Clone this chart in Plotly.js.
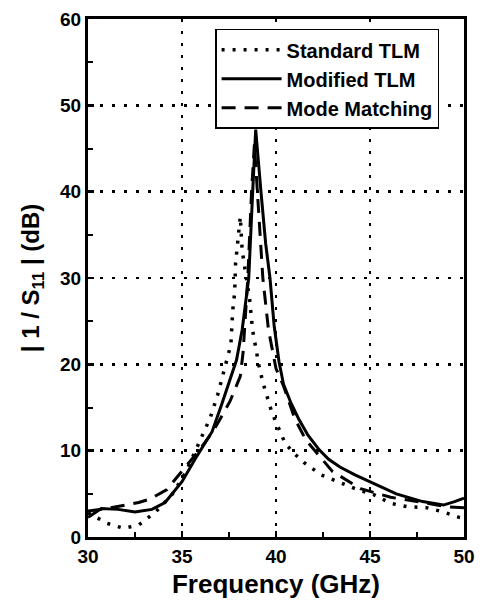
<!DOCTYPE html>
<html>
<head>
<meta charset="utf-8">
<script src="https://cdn.plot.ly/plotly-3.0.1.min.js"></script>
<style>html,body{margin:0;padding:0;background:#fff;}#chart{width:482px;height:606px;}</style>
</head>
<body>
<div id="chart"></div>
<script>
// Standard TLM (dotted)
const stdFreq = [30, 30.5, 31.0, 31.9, 32.7, 33.6, 34.5, 35.2, 36.0, 36.5, 36.9, 37.15, 37.4, 37.6, 37.7, 37.8, 37.85, 37.95, 38.05, 38.1, 38.2, 38.4, 38.6, 38.75, 38.9, 39.1, 39.3, 39.55, 39.8, 40.1, 40.5, 41.0, 41.5, 42.4, 43.3, 44.2, 45.2, 46.1, 47.0, 48.0, 48.9, 49.7, 50];
const stdDb   = [2.8, 2.2, 1.6, 1.0, 1.4, 2.9, 5.0, 7.5, 11.5, 13.8, 16.5, 18.6, 20.5, 22.3, 26.3, 28.3, 31.7, 34.0, 35.9, 37.1, 33.2, 30.5, 27.5, 24.0, 22.0, 19.8, 17.9, 16.0, 14.3, 12.8, 10.8, 9.6, 8.6, 7.2, 6.4, 5.6, 4.9, 3.9, 3.5, 3.4, 2.9, 2.3, 2.2];
// Modified TLM (solid)
const modFreq = [30, 30.1, 30.7, 31.6, 32.5, 33.4, 34.1, 35.0, 35.8, 36.6, 37.1, 37.5, 37.9, 38.2, 38.55, 38.76, 38.92, 39.2, 39.45, 39.68, 39.9, 40.16, 40.4, 40.8, 41.2, 41.7, 42.3, 42.8, 43.4, 44.2, 45.0, 46.4, 47.8, 48.9, 49.5, 50];
const modDb   = [2.3, 2.4, 3.3, 3.2, 2.9, 3.2, 4.0, 6.4, 9.4, 12.2, 15.3, 17.8, 20.5, 24.0, 30.0, 40.0, 47.2, 40.0, 34.0, 30.0, 24.5, 20.3, 17.7, 15.5, 13.7, 11.8, 10.1, 9.0, 8.1, 7.2, 6.4, 5.0, 4.1, 3.7, 4.1, 4.5];
// Mode Matching (dashed)
const mmFreq = [30, 31, 32, 32.7, 33.3, 34.2, 35.1, 35.9, 36.7, 37.55, 38.1, 38.25, 38.5, 38.7, 38.85, 39.0, 39.3, 39.6, 40.0, 40.4, 41.0, 41.6, 42.0, 43.0, 44.5, 46.1, 47.5, 49.1, 50];
const mmDb   = [3.0, 3.3, 3.7, 4.0, 4.4, 5.5, 7.9, 10.0, 12.4, 15.7, 18.6, 21.4, 30.0, 40.0, 45.5, 40.0, 30.0, 24.0, 19.5, 17.5, 13.7, 11.2, 10.2, 7.6, 5.6, 4.6, 4.1, 3.5, 3.4];

const seriesNames = ['Standard TLM', 'Modified TLM', 'Mode Matching'];
const xTicks = [30, 35, 40, 45, 50];
const yTicks = [0, 10, 20, 30, 40, 50, 60];

const FONT = 'Liberation Sans, Arial, Helvetica, sans-serif';

const traces = [
  {x: stdFreq, y: stdDb, name: seriesNames[0], mode: 'lines', legendgroup: 'a',
   line: {color: '#000', width: 3.5, dash: '3px,8px'}},
  {x: modFreq, y: modDb, name: seriesNames[1], mode: 'lines', legendgroup: 'b',
   line: {color: '#000', width: 3}},
  {x: mmFreq, y: mmDb, name: seriesNames[2], mode: 'lines', legendgroup: 'c',
   line: {color: '#000', width: 3, dash: '14px,9px'}}
];

const axisCommon = {
  showline: true, linecolor: '#000', linewidth: 3, mirror: true,
  ticks: 'inside', ticklen: 6, tickwidth: 2.5, tickcolor: '#000',
  showgrid: true, gridcolor: '#000', gridwidth: 2.5, griddash: '3px,9px',
  zeroline: false,
  tickfont: {family: FONT, size: 19, color: '#000', weight: 'bold'},
  minor: {ticks: 'inside', ticklen: 5, tickwidth: 2, tickcolor: '#000', showgrid: false}
};

const layout = {
  width: 482, height: 606,
  margin: {l: 88, r: 18, t: 19, b: 69},
  paper_bgcolor: '#fff', plot_bgcolor: '#fff',
  showlegend: true,
  legend: {
    x: 0.338, y: 0.981, xanchor: 'left', yanchor: 'top',
    bgcolor: '#fff', bordercolor: '#000', borderwidth: 1.5,
    font: {family: FONT, size: 20, color: '#000', weight: 'bold'},
    tracegroupgap: 3, traceorder: 'normal', itemwidth: 60
  },
  xaxis: Object.assign({}, axisCommon, {
    range: [30, 50], tickvals: xTicks, ticktext: xTicks.map(String),
    title: {text: 'Frequency (GHz)', font: {family: FONT, size: 26, color: '#000', weight: 'bold'}, standoff: 10}
  }),
  yaxis: Object.assign({}, axisCommon, {
    range: [0, 60], tickvals: yTicks, ticktext: yTicks.map(String),
    title: {text: '| 1 / S<sub>11</sub> | (dB)', font: {family: FONT, size: 24, color: '#000', weight: 'bold'}, standoff: 14}
  })
};
layout.xaxis.minor = Object.assign({}, axisCommon.minor, {dtick: 2.5});
layout.yaxis.minor = Object.assign({}, axisCommon.minor, {dtick: 5});

Plotly.newPlot('chart', traces, layout, {staticPlot: true, displayModeBar: false});
</script>
</body>
</html>
